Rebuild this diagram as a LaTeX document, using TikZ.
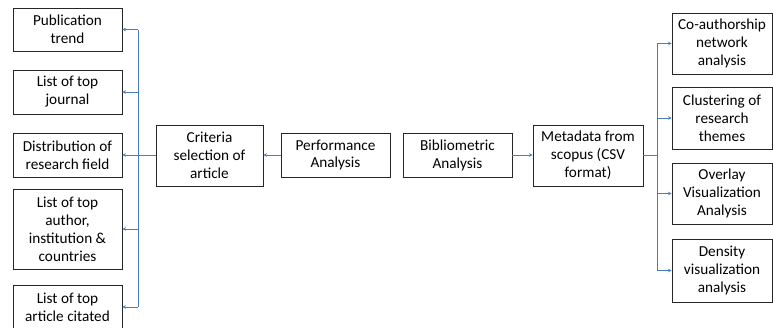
\documentclass[tikz,border=0pt]{standalone}
\usepackage{fontspec}
\setmainfont{Carlito}
\usetikzlibrary{arrows.meta}
\definecolor{lineblue}{RGB}{74,126,187}
\begin{document}
\begin{tikzpicture}[x=1bp,y=-1bp,
  box/.style={draw=black!85,line width=0.8bp,inner sep=0pt,align=center,
    font=\fontsize{15.3}{18}\selectfont},
  conn/.style={draw=lineblue,line width=0.8bp},
  arr/.style={conn,-{Stealth[length=3.5bp,width=3.5bp]}}]
\useasboundingbox[fill=white] (0,0) rectangle (773,327);
% left column
\node[box,minimum width=109bp,minimum height=43bp] (L1) at (67.5,29.5) {Publication\\trend};
\node[box,minimum width=109bp,minimum height=44bp] (L2) at (67.5,92) {List of top\\journal};
\node[box,minimum width=109bp,minimum height=44bp] (L3) at (67.5,155) {Distribution of\\research field};
\node[box,minimum width=109bp,minimum height=80bp] (L4) at (67.5,229) {List of top\\author,\\institution \&\\countries};
\node[box,minimum width=109bp,minimum height=44bp] (L5) at (67.5,307) {List of top\\article citated};
% middle
\node[box,minimum width=107bp,minimum height=61bp] (crit) at (209.5,155.5) {Criteria\\selection of\\article};
\node[box,minimum width=109bp,minimum height=44bp] (perf) at (335.5,155) {Performance\\Analysis};
\node[box,minimum width=109bp,minimum height=44bp] (bib) at (457.5,155) {Bibliometric\\Analysis};
\node[box,minimum width=110bp,minimum height=61bp] (meta) at (588,155.5) {Metadata from\\scopus (CSV\\format)};
% right column
\node[box,minimum width=100bp,minimum height=61bp] (R1) at (722,43.5) {Co-authorship\\network\\analysis};
\node[box,minimum width=100bp,minimum height=62bp] (R2) at (722,118) {Clustering of\\research\\themes};
\node[box,minimum width=100bp,minimum height=61bp] (R3) at (722,193.5) {Overlay\\Visualization\\Analysis};
\node[box,minimum width=100bp,minimum height=63bp] (R4) at (722,270.5) {Density\\visualization\\analysis};
% junctions
\coordinate (jL) at (138,155);
\coordinate (jR) at (657,155);
% connectors
\draw[arr] (perf.west) -- (perf.west -| crit.east);
\draw[arr] (bib.east) -- (bib.east -| meta.west);
\draw[conn] (crit.west |- jL) -- (jL);
\draw[conn] (meta.east |- jR) -- (jR);
\draw[conn] (jL |- L1.east) -- (jL |- L5.east);
\draw[conn] (jR |- R1.west) -- (jR |- R4.west);
\foreach \n in {L1,L2,L3,L4,L5} \draw[arr] (jL |- \n.east) -- (\n.east);
\foreach \n in {R1,R2,R3,R4} \draw[arr] (jR |- \n.west) -- (\n.west);
\end{tikzpicture}
\end{document}
